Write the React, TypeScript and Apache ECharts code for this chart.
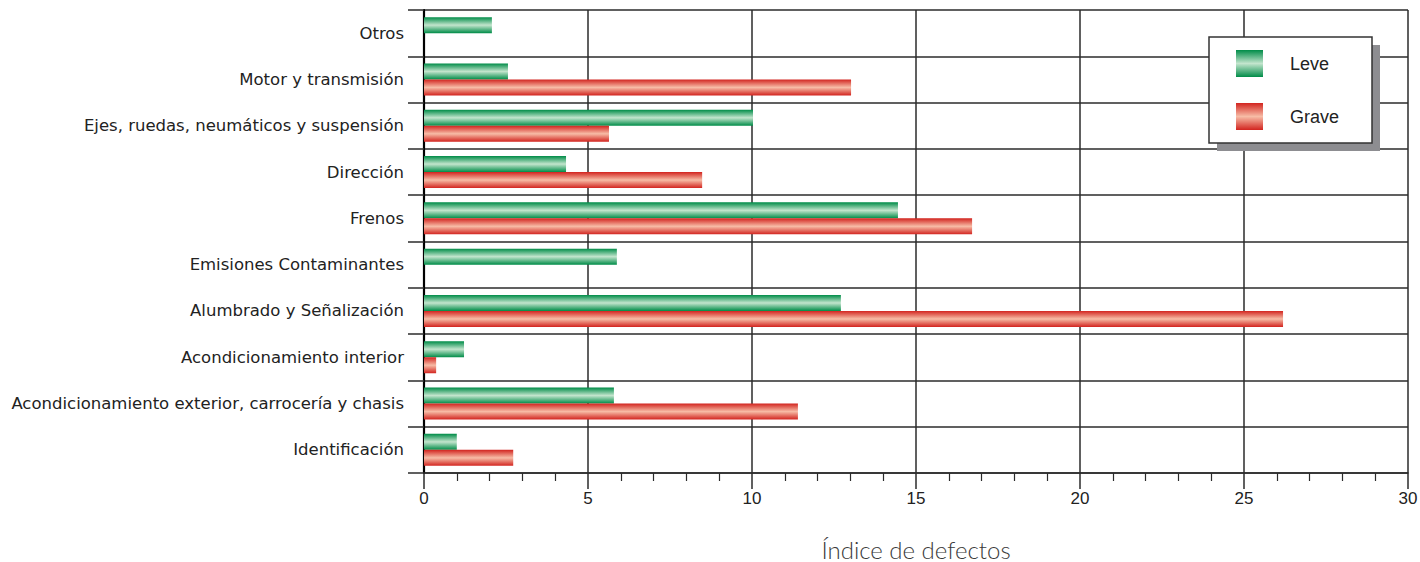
import React, { useEffect, useRef } from "react";
import * as echarts from "echarts";

const categories = [
  "Otros",
  "Motor y transmisión",
  "Ejes, ruedas, neumáticos y suspensión",
  "Dirección",
  "Frenos",
  "Emisiones Contaminantes",
  "Alumbrado y Señalización",
  "Acondicionamiento interior",
  "Acondicionamiento exterior, carrocería y chasis",
  "Identificación",
];
const leve = [2.07, 2.56, 10.03, 4.33, 14.45, 5.88, 12.71, 1.22, 5.79, 1.0];
const grave = [0, 13.02, 5.64, 8.48, 16.71, 0, 26.19, 0.37, 11.4, 2.72];
const xTicks = [0, 5, 10, 15, 20, 25, 30];

const grad = (edge: string, mid: string) =>
  new echarts.graphic.LinearGradient(0, 0, 0, 1, [
    { offset: 0, color: edge },
    { offset: 0.5, color: mid },
    { offset: 1, color: edge },
  ]);

export default function App() {
  const ref = useRef<HTMLDivElement>(null);
  useEffect(() => {
    if (!ref.current) return;
    const chart = echarts.init(ref.current, undefined, { renderer: "svg" });
    const lineColor = "#2b2b2b";
    chart.setOption({
      animation: false,
      backgroundColor: "#ffffff",
      textStyle: { fontFamily: "Liberation Sans, Arial, sans-serif" },
      grid: { left: 424, right: 12, top: 10, bottom: 89, containLabel: false, outerBoundsMode: "none" },
      graphic: [
        { type: "rect", z: 50, shape: { x: 1217, y: 45, width: 163, height: 106 }, style: { fill: "#8d8d91" } },
        { type: "rect", z: 51, shape: { x: 1209, y: 37, width: 163, height: 106 }, style: { fill: "#ffffff", stroke: "#333", lineWidth: 1.5 } },
      ],
      legend: {
        z: 60,
        orient: "vertical",
        left: 1236,
        top: 50,
        padding: 0,
        itemWidth: 27,
        itemHeight: 27,
        itemGap: 26,
        icon: "rect",
        data: ["Leve", "Grave"],
        textStyle: { fontSize: 18, color: "#222", padding: [0, 0, 0, 22] },
      },
      xAxis: {
        type: "value",
        min: 0,
        max: 30,
        interval: 5,
        name: "Índice de defectos",
        nameLocation: "middle",
        nameGap: 64,
        nameTextStyle: { fontSize: 24, color: "#3a3a3a", fontFamily: "Lato, sans-serif", fontWeight: 300 },
        axisLine: { show: true, lineStyle: { color: lineColor, width: 1.5 } },
        axisTick: { show: true, length: 16, lineStyle: { color: lineColor, width: 1.5 } },
        minorTick: { show: true, splitNumber: 5, length: 8, lineStyle: { color: lineColor, width: 1.2 } },
        axisLabel: {
          margin: 17,
          fontSize: 17,
          color: "#222",
          customValues: xTicks,
        },
        splitLine: { show: true, lineStyle: { color: lineColor, width: 1.5 } },
      },
      yAxis: {
        type: "category",
        inverse: true,
        data: categories,
        axisLine: { show: true, lineStyle: { color: "#000", width: 2.2 } },
        axisTick: { show: true, length: 16, lineStyle: { color: lineColor, width: 1.5 } },
        axisLabel: {
          margin: 20,
          fontSize: 16.5,
          color: "#222",
          fontFamily: "DejaVu Sans, sans-serif",
          padding: [0, 0, 4, 0],
        },
        splitLine: { show: true, lineStyle: { color: lineColor, width: 1.5 } },
      },
      series: [
        {
          name: "Leve",
          type: "bar",
          data: leve,
          barWidth: 16,
          barGap: "0%",
          itemStyle: { color: grad("#008c48", "#c3e5cd") },
        },
        {
          name: "Grave",
          type: "bar",
          data: grave,
          barWidth: 16,
          barGap: "0%",
          itemStyle: { color: grad("#d2241f", "#f7bca6") },
        },
      ],
    });
    return () => chart.dispose();
  }, []);
  return <div ref={ref} style={{ width: 1420, height: 562, position: "absolute", left: 0, top: 0 }} />;
}
